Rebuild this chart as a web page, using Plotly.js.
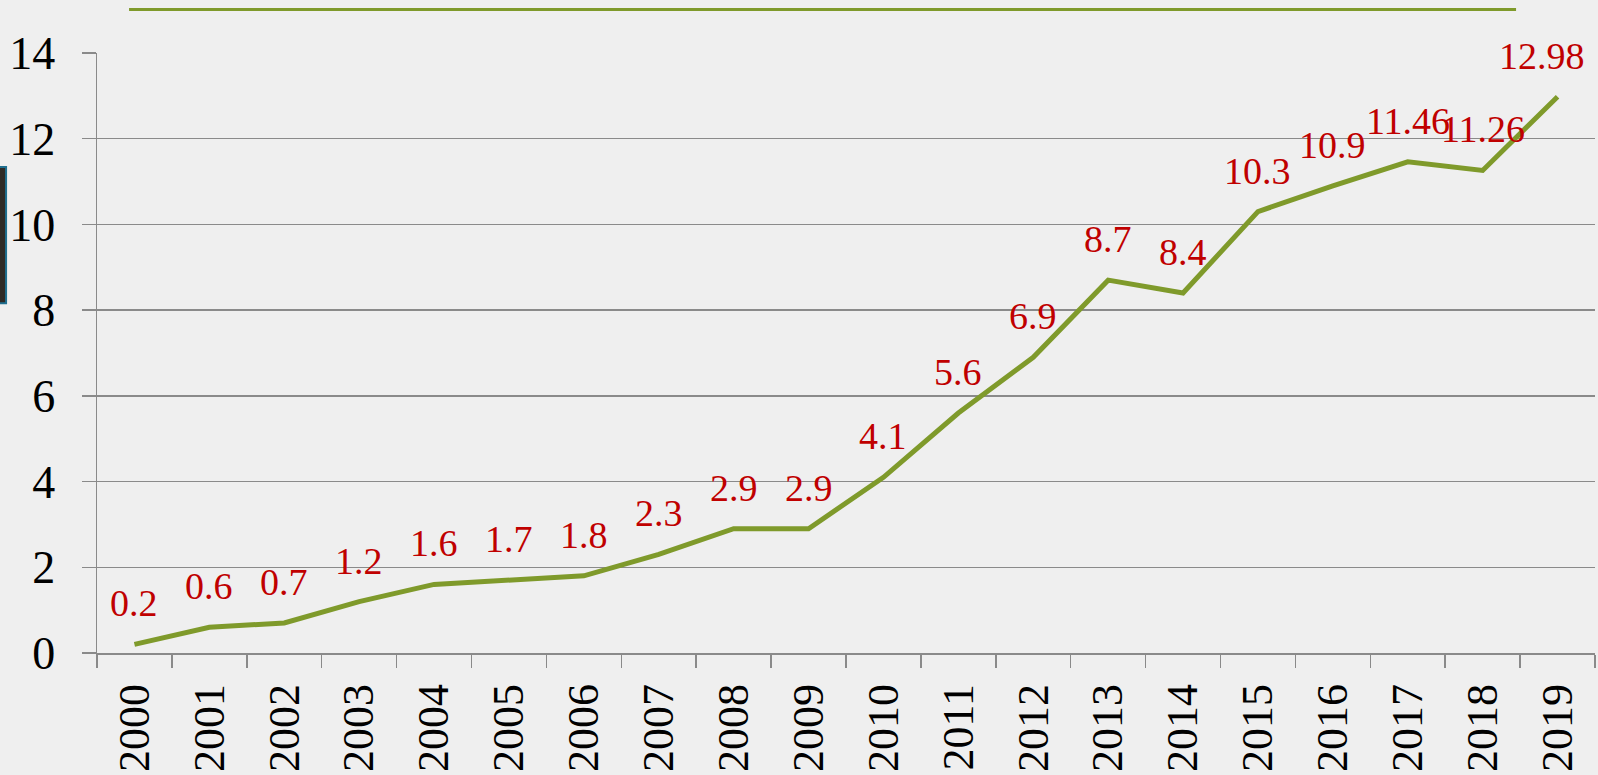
<!DOCTYPE html>
<html>
<head>
<meta charset="utf-8">
<script src="https://cdn.plot.ly/plotly-3.0.1.min.js"></script>
<style>
html,body{margin:0;padding:0;background:#efefef;}
#chart{width:1598px;height:775px;}
</style>
</head>
<body>
<div id="chart"></div>
<script>
var years = ["2000","2001","2002","2003","2004","2005","2006","2007","2008","2009","2010","2011","2012","2013","2014","2015","2016","2017","2018","2019"];
var values = [0.2,0.6,0.7,1.2,1.6,1.7,1.8,2.3,2.9,2.9,4.1,5.6,6.9,8.7,8.4,10.3,10.9,11.46,11.26,12.98];
var labels = ["0.2","0.6","0.7","1.2","1.6","1.7","1.8","2.3","2.9","2.9","4.1","5.6","6.9","8.7","8.4","10.3","10.9","11.46","11.26","12.98"];
var yTicks = [0,2,4,6,8,10,12,14];

var green = "#7f9a2b";
var grid = "#8a8a8a";
var serif = "Liberation Serif, Times New Roman, serif";

var trace = {
  type: "scatter",
  mode: "lines",
  x: years,
  y: values,
  line: {color: green, width: 5},
  cliponaxis: false,
  hoverinfo: "x+y"
};

// labels placed through the category axis (index of each year)
var annotations = labels.map(function(t, i){
  return {
    x: years.indexOf(years[i]), y: values[i], xref: "x", yref: "y",
    text: t, showarrow: false,
    xanchor: "center", yanchor: "middle",
    yshift: 41,
    xshift: i === labels.length - 1 ? -16 : 0,
    font: {family: serif, size: 38, color: "#c00000"}
  };
});

var layout = {
  width: 1598,
  height: 775,
  margin: {l: 97, r: 3, t: 53, b: 122},
  paper_bgcolor: "#efefef",
  plot_bgcolor: "rgba(0,0,0,0)",
  showlegend: false,
  font: {family: serif, color: "#000"},
  annotations: annotations,
  xaxis: {
    type: "category",
    categoryorder: "array",
    categoryarray: years,
    range: [-0.5, 19.5],
    tickson: "boundaries",
    ticks: "outside",
    ticklen: 13,
    tickwidth: 1.5,
    tickcolor: grid,
    ticklabelstandoff: 12,
    showline: true,
    linecolor: grid,
    linewidth: 1.5,
    showgrid: false,
    tickangle: -90,
    tickfont: {family: serif, size: 44, color: "#000"},
    fixedrange: true
  },
  yaxis: {
    range: [0, 14],
    tickvals: yTicks,
    ticktext: yTicks.map(String),
    ticks: "outside",
    ticklen: 14,
    tickwidth: 1.5,
    tickcolor: grid,
    ticklabelstandoff: 17,
    showline: true,
    linecolor: grid,
    linewidth: 1.5,
    showgrid: true,
    gridcolor: grid,
    gridwidth: 1.5,
    zeroline: false,
    tickfont: {family: serif, size: 46, color: "#000"},
    fixedrange: true
  },
  shapes: [
    {type: "line", xref: "paper", yref: "paper", x0: 0.0214, x1: 0.9473, y0: 1.0725, y1: 1.0725,
     line: {color: green, width: 3}},
    {type: "rect", xref: "paper", yref: "paper", x0: -0.0668, x1: -0.0607, y0: 0.583, y1: 0.81,
     fillcolor: "#2e2a26", line: {color: "#1f6f8f", width: 2}}
  ]
};

Plotly.newPlot("chart", [trace], layout, {displayModeBar: false, staticPlot: true});
</script>
</body>
</html>
